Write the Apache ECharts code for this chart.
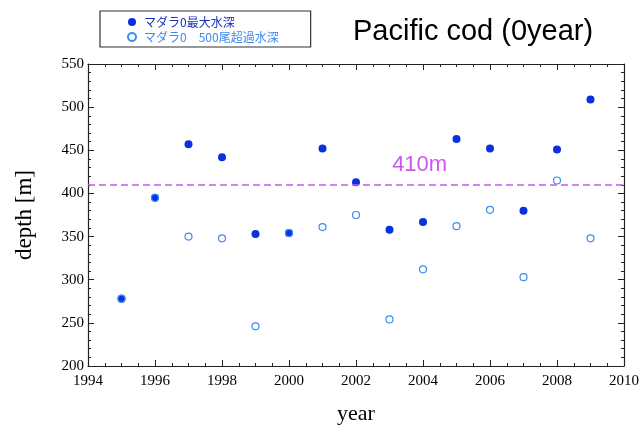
<!DOCTYPE html>
<html><head><meta charset="utf-8">
<script src="https://cdn.jsdelivr.net/npm/echarts@6/dist/echarts.min.js"></script>
<style>html,body{margin:0;padding:0;background:#fff}#c{width:644px;height:431px}</style>
</head><body><div id="c"></div>
<script>
const years = [1995,1996,1997,1998,1999,2000,2001,2002,2003,2004,2005,2006,2007,2008,2009];
const maxDepth = [278,395,457,442,353,354,452,413,358,367,463,452,380,451,509];
const over500Depth = [278,395,350,348,246,354,361,375,254,312,362,381,303,415,348];
const refDepth = 410;
const refLabel = '410m';
const seriesNames = ['マダラ0最大水深','マダラ0　500尾超過水深'];
const titleText = 'Pacific cod (0year)';

const serif = '"Liberation Serif","DejaVu Serif",serif';
const sans = '"Liberation Sans",Arial,sans-serif';
const cjk = '"Noto Sans CJK JP",sans-serif';

const chart = echarts.init(document.getElementById('c'));
function ax(extra, minorSplit){
  return Object.assign({
    type:'value',
    axisLine:{show:true,onZero:false,lineStyle:{color:'#222',width:1.2}},
    axisTick:{show:true,inside:true,length:6,lineStyle:{color:'#222'}},
    minorTick:{show:true,splitNumber:minorSplit,length:3,lineStyle:{color:'#222'}},
    splitLine:{show:false}
  }, extra);
}
chart.setOption({
  animation:false,
  title:{text:titleText,left:348,top:12,textStyle:{fontFamily:sans,fontSize:29,fontWeight:'normal',color:'#000'}},
  legend:{
    orient:'vertical',left:100,top:11,padding:[5,32,4,27],
    borderColor:'#333',borderWidth:1.2,itemGap:3,itemWidth:14,itemHeight:8,
    textStyle:{fontFamily:cjk,fontSize:12},
    data:[{name:seriesNames[0],textStyle:{color:'#1a2fc0'}},{name:seriesNames[1],textStyle:{color:'#3a8af0'}}]
  },
  grid:{left:88,right:20,top:64,bottom:65},
  xAxis:[
    ax({min:1994,max:2010,interval:2,
      name:'year',nameLocation:'middle',nameGap:37,nameTextStyle:{fontFamily:serif,fontSize:22,color:'#000'},
      axisLabel:{fontFamily:serif,fontSize:15,color:'#000',margin:8,formatter:v=>String(v)}},4),
    ax({min:1994,max:2010,interval:2,position:'top',axisLabel:{show:false}},4)
  ],
  yAxis:[
    ax({min:200,max:550,interval:50,
      name:'depth [m]',nameLocation:'middle',nameGap:52,nameTextStyle:{fontFamily:serif,fontSize:23,color:'#000'},
      axisLabel:{fontFamily:serif,fontSize:15,color:'#000',margin:4}},5),
    ax({min:200,max:550,interval:50,position:'right',axisLabel:{show:false}},5)
  ],
  series:[
    {name:seriesNames[0],type:'scatter',symbol:'circle',symbolSize:8,
      itemStyle:{color:'#0a30e0',opacity:1},
      data:years.map((y,i)=>[y,maxDepth[i]]),
      markLine:{silent:true,symbol:'none',label:{show:false},
        lineStyle:{color:'#cc55ee',type:[7,4],width:1.6,opacity:1},data:[{yAxis:refDepth}]},
      markPoint:{symbol:'rect',symbolSize:1,silent:true,itemStyle:{color:'rgba(0,0,0,0)'},
        label:{show:true,formatter:refLabel,position:'top',distance:8,color:'#cc55ee',fontFamily:sans,fontSize:22},
        data:[{coord:[2003.9,refDepth]}]}
    },
    {name:seriesNames[1],type:'scatter',symbol:'circle',symbolSize:7,
      itemStyle:{color:'rgba(255,255,255,0)',borderColor:'#3c8cf0',borderWidth:1.2,opacity:1},
      data:years.map((y,i)=>[y,over500Depth[i]])
    }
  ]
});
</script></body></html>
